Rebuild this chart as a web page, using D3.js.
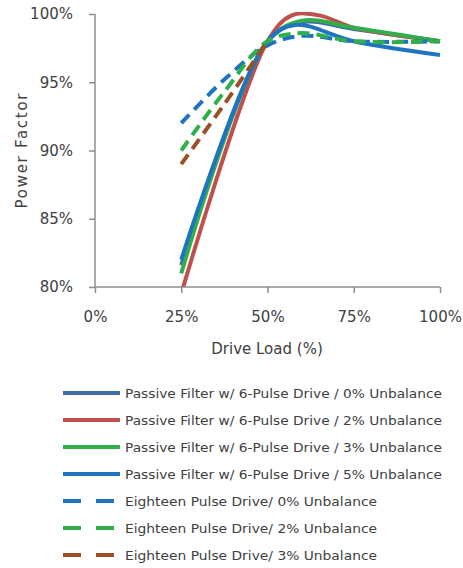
<!DOCTYPE html>
<head>
  <meta charset="utf-8">
  <script src="https://d3js.org/d3.v7.min.js"></script>
  <style>
    body { margin:0; background:#fff; }
    text { font-family: "DejaVu Sans", Verdana, sans-serif; fill:#404040; }
  </style>
</head>
<body>
<script>
// drive load values (%), power factor (%)
var xTicks = [0, 25, 50, 75, 100]
var yTicks = [80, 85, 90, 95, 100]

var pf0 = [[25, 81.6], [50, 98], [60, 99.4], [75, 98.9], [100, 98]]
var pf2 = [[25, 79.5], [50, 98], [57, 99.9], [65, 99.9], [75, 99], [100, 98]]
var pf3 = [[25, 81], [50, 98], [60, 99.5], [75, 99], [100, 98]]
var pf5 = [[25, 82], [50, 98], [58, 99.2], [75, 98], [100, 97]]
var ep0 = [[25, 92], [37.5, 95.2], [50, 97.7], [60, 98.4], [75, 98], [100, 98]]
var ep2 = [[25, 90], [37.5, 94.3], [50, 98], [60, 98.6], [75, 98], [100, 98]]
var ep3 = [[25, 89], [37.5, 93.4], [50, 98]]

var series = [
  {name: "Passive Filter w/ 6-Pulse Drive / 0% Unbalance", data: pf0, color: "#3d6eab", dash: null},
  {name: "Passive Filter w/ 6-Pulse Drive / 2% Unbalance", data: pf2, color: "#c0504d", dash: null},
  {name: "Passive Filter w/ 6-Pulse Drive / 3% Unbalance", data: pf3, color: "#2fae4a", dash: null},
  {name: "Passive Filter w/ 6-Pulse Drive / 5% Unbalance", data: pf5, color: "#1f74c2", dash: null},
  {name: "Eighteen Pulse Drive/ 0% Unbalance", data: ep0, color: "#1f74c2", dash: "12,7"},
  {name: "Eighteen Pulse Drive/ 2% Unbalance", data: ep2, color: "#2fae4a", dash: "12,7"},
  {name: "Eighteen Pulse Drive/ 3% Unbalance", data: ep3, color: "#9b5024", dash: "12,7"}
]

var svg = d3.select("body").append("svg")
  .attr("width", 463)
  .attr("height", 568)

var x = d3.scaleLinear().domain([0, 100]).range([95, 440])
var y = d3.scaleLinear().domain([80, 100]).range([287, 14])

svg.append("clipPath").attr("id", "plot")
  .append("rect").attr("x", 95).attr("y", 12).attr("width", 350).attr("height", 275)

var line = d3.line()
  .x(function(d){ return x(d[0]) })
  .y(function(d){ return y(d[1]) })
  .curve(d3.curveCatmullRom.alpha(0.5))

svg.append("g").attr("clip-path", "url(#plot)")
  .selectAll("path")
  .data(series)
  .enter()
  .append("path")
  .attr("d", function(d){ return line(d.data) })
  .attr("fill", "none")
  .attr("stroke", function(d){ return d.color })
  .attr("stroke-width", 4)
  .attr("stroke-dasharray", function(d){ return d.dash })

// axes
var xAxis = svg.append("g").attr("transform", "translate(0,287)")
  .call(d3.axisBottom(x).tickValues(xTicks).tickSize(6).tickPadding(18).tickFormat(function(d){ return d + "%" }))
var yAxis = svg.append("g").attr("transform", "translate(95,0)")
  .call(d3.axisLeft(y).tickValues(yTicks).tickSize(6).tickPadding(16).tickFormat(function(d){ return d + "%" }))

;[xAxis, yAxis].forEach(function(a){
  a.select(".domain").attr("stroke", "#8c8c8c").attr("stroke-width", 1.5)
  a.selectAll(".tick line").attr("stroke", "#8c8c8c").attr("stroke-width", 1.5)
  a.selectAll(".tick text").style("font-size", "15px").attr("fill", "#404040")
    .style("font-family", "'DejaVu Sans', Verdana, sans-serif")
})
xAxis.select(".domain").attr("d", "M95,0H440")
yAxis.select(".domain").attr("d", "M0,14V287")

svg.append("text").attr("x", 267).attr("y", 354).attr("text-anchor", "middle")
  .style("font-size", "15px").text("Drive Load (%)")
svg.append("text").attr("transform", "translate(27,151) rotate(-90)").attr("text-anchor", "middle")
  .style("font-size", "15px").attr("textLength", 115).text("Power Factor")

// legend
var legend = svg.selectAll(".leg").data(series).enter().append("g")
  .attr("class", "leg")
  .attr("transform", function(d, i){ return "translate(0," + (393 + i * 27) + ")" })
legend.append("line")
  .attr("x1", 63).attr("x2", 120).attr("y1", 0).attr("y2", 0)
  .attr("stroke", function(d){ return d.color })
  .attr("stroke-width", 4)
  .attr("stroke-dasharray", function(d){ return d.dash ? "18,15" : null })
legend.append("text")
  .attr("x", 125).attr("y", 4.5)
  .style("font-size", "12px")
  .attr("textLength", function(d){ return d.dash ? 252 : 317 })
  .attr("lengthAdjust", "spacingAndGlyphs")
  .text(function(d){ return d.name })
</script>
</body>
